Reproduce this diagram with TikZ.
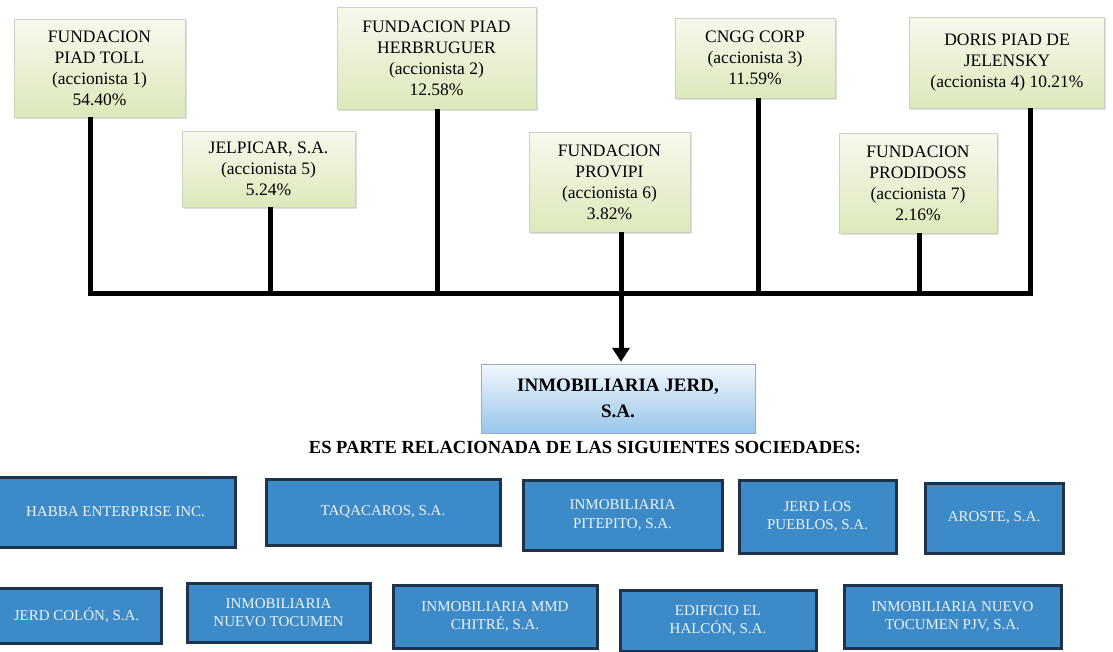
\documentclass[tikz,border=0pt]{standalone}
\usepackage{fontspec}
\setmainfont{Liberation Serif}
\usepackage{tikz}
\usetikzlibrary{arrows.meta,shadows}
\definecolor{shtop}{RGB}{248,248,238}
\definecolor{shbot}{RGB}{220,233,186}
\definecolor{shline}{RGB}{205,208,195}
\definecolor{jerdtop}{RGB}{242,247,252}
\definecolor{jerdbot}{RGB}{152,198,235}
\definecolor{jerdline}{RGB}{150,172,192}
\definecolor{relfill}{RGB}{60,138,200}
\definecolor{relline}{RGB}{30,50,76}
\definecolor{reltext}{RGB}{238,243,248}
\tikzset{
  shbox/.style   = {rectangle, draw=shline, thin, top color=shtop, bottom color=shbot,
                    drop shadow={shadow xshift=1.5pt, shadow yshift=-1.5pt, opacity=0.25},
                    align=center, inner sep=3pt, font=\fontsize{17.5}{21}\selectfont},
  jerdbox/.style = {rectangle, draw=jerdline, thin, top color=jerdtop, bottom color=jerdbot,
                    align=center, inner sep=3pt, font=\bfseries\fontsize{19}{26}\selectfont},
  relbox/.style  = {rectangle, draw=relline, line width=3pt, fill=relfill, text=reltext,
                    align=center, inner sep=3pt, font=\fontsize{15}{18.5}\selectfont},
  stem/.style    = {line width=5pt, black},
  stemarrow/.style = {stem, -{Triangle[length=14pt, width=17pt]}, shorten >=2pt}
}

\begin{document}
\begin{tikzpicture}[x=1pt, y=-1pt]
  \fill[white] (0,0) rectangle (1113,651);
  \useasboundingbox (0,0) rectangle (1113,651);
  % Shareholders, upper row
  \node[shbox, minimum width=171, minimum height=98]  (sh1) at (99.5,68)  {FUNDACION\\PIAD TOLL\\(accionista 1)\\54.40\%};
  \node[shbox, minimum width=199, minimum height=102] (sh2) at (436.5,58) {FUNDACION PIAD\\HERBRUGUER\\(accionista 2)\\12.58\%};
  \node[shbox, minimum width=160, minimum height=80]  (sh3) at (755,58)   {CNGG CORP\\(accionista 3)\\11.59\%};
  \node[shbox, minimum width=195, minimum height=91]  (sh4) at (1007,62.5){DORIS PIAD DE\\JELENSKY\\(accionista 4) 10.21\%};
  % Shareholders, lower row
  \node[shbox, minimum width=173, minimum height=76]  (sh5) at (268.5,169){JELPICAR, S.A.\\(accionista 5)\\5.24\%};
  \node[shbox, minimum width=161, minimum height=100] (sh6) at (609.5,182){FUNDACION\\PROVIPI\\(accionista 6)\\3.82\%};
  \node[shbox, minimum width=158, minimum height=100] (sh7) at (918,183)  {FUNDACION\\PRODIDOSS\\(accionista 7)\\2.16\%};
  % Junctions on the bus
  \coordinate (j1) at (90,293);  \coordinate (j5) at (270,293);
  \coordinate (j2) at (437,293); \coordinate (j6) at (621,293);
  \coordinate (j3) at (758,293); \coordinate (j7) at (919,293);
  \coordinate (j4) at (1030,293);
  % Company
  \node[jerdbox, minimum width=274, minimum height=69] (jerd) at (618,398.5) {INMOBILIARIA JERD,\\S.A.};
  \node[font=\bfseries\fontsize{18.5}{22}\selectfont] (rel) at (585,447)
    {ES PARTE RELACIONADA DE LAS SIGUIENTES SOCIEDADES:};
  % Bus and stems
  \draw[stem] (sh1.south -| j1) -- (j1) -- (j4) -- (sh4.south -| j4);
  \draw[stem] (sh5.south -| j5) -- (j5); \draw[stem] (sh2.south -| j2) -- (j2);
  \draw[stem] (sh3.south -| j3) -- (j3); \draw[stem] (sh7.south -| j7) -- (j7);
  \draw[stemarrow] (sh6.south -| j6) -- (jerd.north -| j6);
  % Related companies, row 1
  \node[relbox, minimum width=239, minimum height=70] (r1) at (115.5,512) {HABBA ENTERPRISE INC.};
  \node[relbox, minimum width=234, minimum height=66] (r2) at (383,512)   {TAQACAROS, S.A.};
  \node[relbox, minimum width=199, minimum height=70] (r3) at (622.5,515) {INMOBILIARIA\\PITEPITO, S.A.};
  \node[relbox, minimum width=157, minimum height=73] (r4) at (817.5,516.5){JERD LOS\\PUEBLOS, S.A.};
  \node[relbox, minimum width=138, minimum height=70] (r5) at (994,518)   {AROSTE, S.A.};
  % Related companies, row 2
  \node[relbox, minimum width=169, minimum height=55] (r6)  at (76.5,615.5) {JERD COLÓN, S.A.};
  \node[relbox, minimum width=183, minimum height=59] (r7)  at (278.5,612.5){INMOBILIARIA\\NUEVO TOCUMEN};
  \node[relbox, minimum width=204, minimum height=63] (r8)  at (495,616.5)  {INMOBILIARIA MMD\\CHITRÉ, S.A.};
  \node[relbox, minimum width=196, minimum height=61] (r9)  at (718,620.5)  {EDIFICIO EL\\HALCÓN, S.A.};
  \node[relbox, minimum width=217, minimum height=63] (r10) at (952.5,616.5){INMOBILIARIA NUEVO\\TOCUMEN PJV, S.A.};
\end{tikzpicture}
\end{document}
